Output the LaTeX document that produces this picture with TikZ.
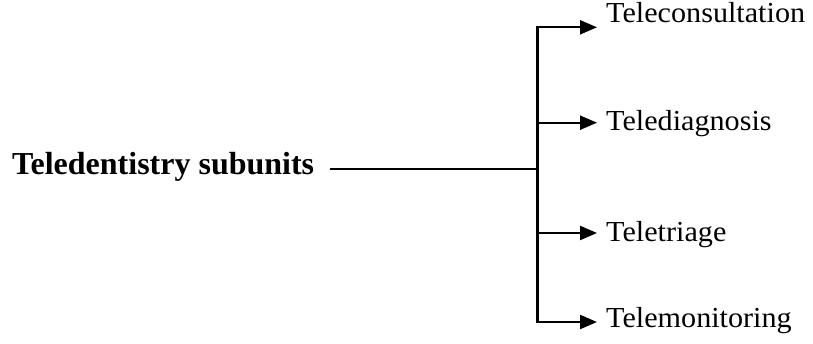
\documentclass[tikz,border=0pt]{standalone}
\usepackage{fontspec}
\setmainfont{Liberation Serif}[FakeStretch=1.04, BoldFeatures={FakeStretch=1.0}]
\usetikzlibrary{arrows.meta}
\begin{document}
\begin{tikzpicture}[x=1pt,y=1pt,
    conn/.style={line width=2.2pt},
    branch/.style={conn,-{Triangle[length=17pt,width=14pt]}},
    sublabel/.style={anchor=base west,inner ysep=0pt,inner xsep=9pt,font=\fontsize{29}{32}\selectfont},
    rootlabel/.style={anchor=base west,inner ysep=0pt,inner xsep=15.5pt,font=\fontsize{32}{36}\selectfont\bfseries}]
  \useasboundingbox (0,0) rectangle (813,343);

  % title on the left
  \node[rootlabel] (root) at (-3.5,168) {Teledentistry subunits};

  % the four subunits
  \node[sublabel] (l1) at (597,320.5) {Teleconsultation};
  \node[sublabel] (l2) at (597,212) {Telediagnosis};
  \node[sublabel] (l3) at (597,102) {Teletriage};
  \node[sublabel] (l4) at (597,16) {Telemonitoring};

  % junction on the vertical spine and the branch points
  \coordinate (j)  at (537.5,173.7);
  \coordinate (b1) at (537.5,315.7);
  \coordinate (b2) at (537.5,220.3);
  \coordinate (b3) at (537.5,110);
  \coordinate (b4) at (537.5,21);

  % connectors
  \draw[conn] (root.east |- j) -- (j);
  \draw[conn] (b1) -- (b4);
  \draw[branch] ([xshift=-1.1pt]b1) -- (b1 -| l1.west);
  \draw[branch] (b2) -- (b2 -| l2.west);
  \draw[branch] (b3) -- (b3 -| l3.west);
  \draw[branch] ([xshift=-1.1pt]b4) -- (b4 -| l4.west);
\end{tikzpicture}
\end{document}
